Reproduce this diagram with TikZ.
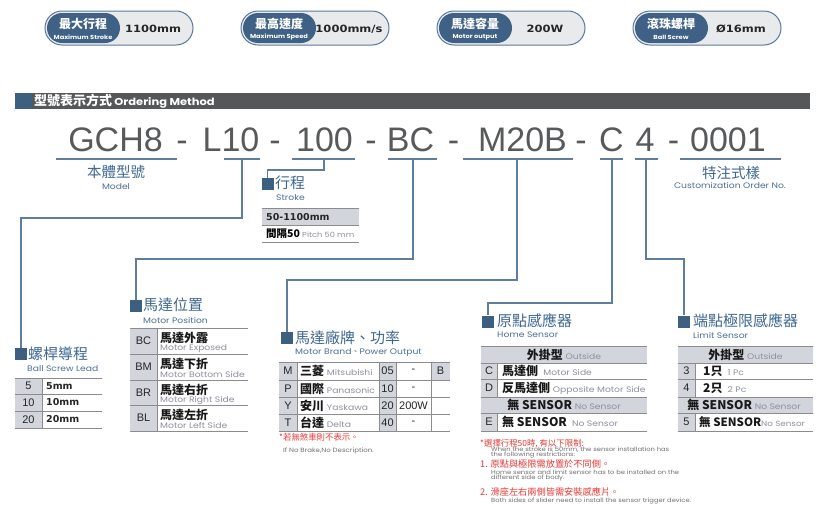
\documentclass[tikz,border=0pt]{standalone}
\usepackage{fontspec}
\setmainfont{Noto Sans CJK TC}
\newfontfamily\cjk{Noto Sans CJK TC}
\newfontfamily\geo[FakeStretch=1.15]{Poppins}
\newfontfamily\ari{Liberation Sans}
\newfontfamily\widefont[FakeStretch=1.15]{DejaVu Sans}
\newfontfamily\dvs{DejaVu Sans}
\definecolor{connc}{HTML}{5F7E9E}
\definecolor{sqc}{HTML}{3D5F80}
\definecolor{titlec}{HTML}{3F6891}
\definecolor{subc}{HTML}{4A6F96}
\definecolor{codec}{HTML}{58595B}
\definecolor{tlc}{HTML}{8C8C8C}
\definecolor{cellc}{HTML}{D3D5DD}
\definecolor{engc}{HTML}{8D8FA0}
\definecolor{redc}{HTML}{E53935}
\definecolor{barc}{HTML}{555759}
\definecolor{pillf}{HTML}{E9EAEC}
\definecolor{pillb}{HTML}{5A7A9C}
\definecolor{pilld}{HTML}{3F6185}
\definecolor{notec}{HTML}{707070}
\newcommand\engt[1]{{\geo\mdseries\color{engc}\fontsize{8}{8}\selectfont #1}}
\newcommand\pillbox[5]{%
  \draw[fill=pillf, draw=pillb, line width=1pt, rounded corners=17pt] (#1,11) rectangle ++(148,34);
  \fill[pilld, rounded corners=15pt] (#1+2,13) rectangle ++(73,30);
  \node[pillcn] (#5a) at (#1+38,24) {#2};
  \node[pillen] (#5b) at (#1+38,37) {#3};
  \node[pillval] (#5c) at (#1+108,29) {#4};
}
\tikzset{
  conn/.style={draw=connc, line width=1.1pt},
  sqbox/.style={fill=sqc, minimum width=12pt, minimum height=12pt, inner sep=0pt},
  ttl/.style={anchor=west, inner sep=0pt, text=titlec, font=\cjk\fontsize{15}{15}\selectfont},
  sub/.style={anchor=west, inner sep=0pt, text=subc, font=\geo\fontsize{8}{8}\selectfont},
  code/.style={anchor=base, inner sep=0pt, text=codec, font=\ari\fontsize{34}{34}\selectfont},
  tl/.style={draw=tlc, line width=0.9pt},
  key/.style={inner sep=0pt, text=black!85, font=\ari\fontsize{11}{11}\selectfont},
  cz/.style={anchor=west, inner sep=0pt, text=black!90, font=\cjk\bfseries\fontsize{12}{12}\selectfont},
  ez/.style={anchor=west, inner sep=0pt, text=engc, font=\geo\fontsize{8}{8}\selectfont},
  val/.style={anchor=west, inner sep=0pt, text=black!85, font=\dvs\bfseries\fontsize{9.5}{9.5}\selectfont},
  pillcn/.style={inner sep=0pt, text=white, font=\cjk\bfseries\fontsize{12}{12}\selectfont},
  pillen/.style={inner sep=0pt, text=white, font=\geo\bfseries\fontsize{5.8}{5.8}\selectfont},
  pillval/.style={inner sep=0pt, text=black!85, font=\widefont\bfseries\fontsize{10}{10}\selectfont},
  red/.style={anchor=west, inner sep=0pt, text=redc, font=\cjk\fontsize{8.4}{8.4}\selectfont},
  tiny/.style={anchor=west, inner sep=0pt, text=notec, font=\geo\fontsize{5.9}{5.9}\selectfont},
}
\begin{document}
\begin{tikzpicture}[x=1pt,y=-1pt]
\useasboundingbox (0,0) rectangle (817,509);
\fill[white] (0,0) rectangle (817,509);
% pills
\pillbox{45}{最大行程}{Maximum Stroke}{1100mm}{pa}
\pillbox{241}{最高速度}{Maximum Speed}{1000mm/s}{pb}
\pillbox{437}{馬達容量}{Motor output}{200W}{pc}
\pillbox{633}{滾珠螺桿}{Ball Screw}{Ø16mm}{pd}
% header bar
\fill[barc] (15,93) rectangle (810,109);
\fill[sqc] (15,93) rectangle (32,109);
\node[anchor=west, inner sep=0pt, text=white] (hdr) at (34,101) {{\cjk\bfseries\fontsize{13}{13}\selectfont 型號表示方式} {\geo\bfseries\fontsize{10}{10}\selectfont Ordering Method}};
% code
\node[code] (cG) at (115.5,151) {GCH8};
\node[code] (d1) at (182,151) {-};
\node[code] (cL) at (231,151) {L10};
\node[code] (d2) at (275,151) {-};
\node[code] (cS) at (324.5,151) {100};
\node[code] (d3) at (371,151) {-};
\node[code] (cB) at (410.5,151) {BC};
\node[code] (d4) at (453.5,151) {-};
\node[code] (cM) at (522.5,151) {M20B};
\node[code] (d5) at (581,151) {-};
\node[code] (cC) at (611.5,151) {C};
\node[code] (c4) at (645,151) {4};
\node[code] (d6) at (673.5,151) {-};
\node[code] (c0) at (728,151) {0001};
% underlines
\coordinate (uG) at (116,159);
\coordinate (uL) at (242,159);
\coordinate (uS) at (324,159);
\coordinate (uB) at (413,159);
\coordinate (uM) at (517,159);
\coordinate (uC) at (612,159);
\coordinate (u4) at (646,159);
\draw[conn] (56,159) -- (177,159);
\draw[conn] (224,159) -- (260,159);
\draw[conn] (292,159) -- (355,159);
\draw[conn] (388,159) -- (437,159);
\draw[conn] (463,159) -- (573,159);
\draw[conn] (600,159) -- (623,159);
\draw[conn] (635,159) -- (658,159);
\draw[conn] (680,159) -- (781,159);
% model / custom labels
\node[inner sep=0pt, text=titlec, font=\cjk\fontsize{14.5}{14.5}\selectfont] (tModel) at (116,172) {本體型號};
\node[inner sep=0pt, text=subc, font=\geo\fontsize{8}{8}\selectfont] (sModel) at (116,187) {Model};
\node[inner sep=0pt, text=titlec, font=\cjk\fontsize{14.5}{14.5}\selectfont] (tCust) at (731,173) {特注式樣};
\node[inner sep=0pt, text=subc, font=\geo\fontsize{8}{8}\selectfont] (sCust) at (730,185) {Customization Order No.};
% squares and titles
\node[sqbox] (sqLead) at (21,354) {};
\node[ttl] (tLead) at (28,354) {螺桿導程};
\node[sub] (sLead) at (27,369) {Ball Screw Lead};
\node[sqbox] (sqStroke) at (267.5,184) {};
\node[ttl] (tStroke) at (275,183) {行程};
\node[sub] (sStroke) at (276,198) {Stroke};
\node[sqbox] (sqPos) at (136,306) {};
\node[ttl] (tPos) at (143,305) {馬達位置};
\node[sub] (sPos) at (143,320) {Motor Position};
\node[sqbox] (sqBrand) at (287,338) {};
\node[ttl] (tBrand) at (295,338) {馬達廠牌、功率};
\node[sub] (sBrand) at (295,353) {Motor Brand{\cjk 、}Power Output};
\node[sqbox] (sqHome) at (488,321.5) {};
\node[ttl] (tHome) at (497,321) {原點感應器};
\node[sub] (sHome) at (497,335) {Home Sensor};
\node[sqbox] (sqLimit) at (684,321.5) {};
\node[ttl] (tLimit) at (693,321) {端點極限感應器};
\node[sub] (sLimit) at (693,335) {Limit Sensor};
% connectors
\draw[conn] (uL) -- ++(0,59) -| (sqLead.north);
\draw[conn] (uS) -- ++(0,11) -| (sqStroke.north);
\draw[conn] (uB) -- ++(0,100) -| (sqPos.north);
\draw[conn] (uM) -- ++(0,121) -| (sqBrand.north);
\draw[conn] (uC) -- ++(0,144) -| (sqHome.north);
\draw[conn] (u4) -- ++(0,100) -| (sqLimit.north);
% stroke table
\fill[cellc] (262,208) rectangle (359,225);
\foreach \yy in {208,225,242} \draw[tl] (262,\yy) -- (359,\yy);
\node[val] (st1) at (266,217) {50-1100mm};
\node[anchor=west, inner sep=0pt] (st2) at (266,233.5) {{\cjk\bfseries\fontsize{10.5}{10.5}\selectfont 間隔50} {\geo\color{engc}\fontsize{7.2}{7.2}\selectfont Pitch 50 mm}};
% lead table
\fill[cellc] (15,378) rectangle (42,428);
\foreach \yy in {378,394,411,428} \draw[tl] (15,\yy) -- (102,\yy);
\draw[tl] (42,378) -- (42,428);
\node[key] (k5) at (28.5,386) {5};
\node[key] (k10) at (28.5,402.5) {10};
\node[key] (k20) at (28.5,419.5) {20};
\node[val] (v5) at (46,386) {5mm};
\node[val] (v10) at (46,402.5) {10mm};
\node[val] (v20) at (46,419.5) {20mm};
% motor position table
\fill[cellc] (130,328) rectangle (157,431);
\foreach \yy in {328,354,380,405,431} \draw[tl] (130,\yy) -- (248,\yy);
\draw[tl] (157,328) -- (157,431);
\node[key] (kBC) at (143.5,341) {BC};
\node[cz] (zBC) at (160,338) {馬達外露};
\node[ez] (eBC) at (160,348.5) {Motor Exposed};
\node[key] (kBM) at (143.5,367) {BM};
\node[cz] (zBM) at (160,364) {馬達下折};
\node[ez] (eBM) at (160,374.5) {Motor Bottom Side};
\node[key] (kBR) at (143.5,392.5) {BR};
\node[cz] (zBR) at (160,390) {馬達右折};
\node[ez] (eBR) at (160,400.5) {Motor Right Side};
\node[key] (kBL) at (143.5,418) {BL};
\node[cz] (zBL) at (160,415) {馬達左折};
\node[ez] (eBL) at (160,425.5) {Motor Left Side};
% brand table
\fill[cellc] (279,362) rectangle (297,431);
\fill[cellc] (379,362) rectangle (396,431);
\fill[cellc] (431,362) rectangle (450,380);
\foreach \yy in {362,380,397,414,431} \draw[tl] (279,\yy) -- (450,\yy);
\foreach \xx in {297,379,396,431} \draw[tl] (\xx,362) -- (\xx,431);
\node[key] (kM) at (288,371) {M};
\node[key] (kP) at (288,388.5) {P};
\node[key] (kY) at (288,405.5) {Y};
\node[key] (kT) at (288,422.5) {T};
\node[cz] (bM) at (300,371) {三菱 \engt{Mitsubishi}};
\node[cz] (bP) at (300,388.5) {國際 \engt{Panasonic}};
\node[cz] (bY) at (300,405.5) {安川 \engt{Yaskawa}};
\node[cz] (bT) at (300,422.5) {台達 \engt{Delta}};
\node[key] (n05) at (387.5,371) {05};
\node[key] (n10) at (387.5,388.5) {10};
\node[key] (n20) at (387.5,405.5) {20};
\node[key] (n40) at (387.5,422.5) {40};
\node[key] (w05) at (413.5,371) {-};
\node[key] (w10) at (413.5,388.5) {-};
\node[key] (w20) at (413.5,405.5) {200W};
\node[key] (w40) at (413.5,422.5) {-};
\node[key] (kBk) at (440.5,371) {B};
\node[red] (nb1) at (279,437) {*若無煞車則不表示。};
\node[tiny, font=\geo\fontsize{6.1}{6.1}\selectfont] (nb2) at (283,451) {If No Brake,No Description.};
% home sensor table
\fill[cellc] (481,346) rectangle (647,363);
\fill[cellc] (481,397) rectangle (647,413);
\fill[cellc] (481,363) rectangle (497,397);
\fill[cellc] (481,413) rectangle (497,431);
\foreach \yy in {346,363,379,397,413,431} \draw[tl] (481,\yy) -- (647,\yy);
\draw[tl] (497,363) -- (497,397);
\draw[tl] (497,413) -- (497,431);
\node[cz, anchor=center] (hO) at (564,354.5) {外掛型 \engt{Outside}};
\node[key] (hCk) at (489,371) {C};
\node[cz] (hC) at (502,371) {馬達側 \engt{\ Motor Side}};
\node[key] (hDk) at (489,388) {D};
\node[cz] (hD) at (502,388) {反馬達側 \engt{Opposite Motor Side}};
\node[cz, anchor=center] (hN) at (564,405) {無 SENSOR \engt{No Sensor}};
\node[key] (hEk) at (489,422) {E};
\node[cz] (hE) at (502,422) {無 SENSOR \engt{\ No Sensor}};
% limit sensor table
\fill[cellc] (678,346) rectangle (813,363);
\fill[cellc] (678,397) rectangle (813,413);
\fill[cellc] (678,363) rectangle (695,397);
\fill[cellc] (678,413) rectangle (695,431);
\foreach \yy in {346,363,379,397,413,431} \draw[tl] (678,\yy) -- (813,\yy);
\draw[tl] (695,363) -- (695,397);
\draw[tl] (695,413) -- (695,431);
\node[cz, anchor=center] (lO) at (745.5,354.5) {外掛型 \engt{Outside}};
\node[key] (l3k) at (686.5,371) {3};
\node[cz] (l3) at (703,371) {1只 \engt{\ 1 Pc}};
\node[key] (l4k) at (686.5,388) {4};
\node[cz] (l4) at (703,388) {2只 \engt{\ 2 Pc}};
\node[cz, anchor=center] (lN) at (744,405) {無 SENSOR \engt{No Sensor}};
\node[key] (l5k) at (686.5,422) {5};
\node[cz, font=\cjk\bfseries\fontsize{11.5}{11.5}\selectfont] (l5) at (699,422) {無 SENSOR{\geo\mdseries\color{engc}\fontsize{7.6}{7.6}\selectfont No Sensor}};
% notes
\node[red] (r1) at (480,444) {*選擇行程50時, 有以下限制:};
\node[tiny] (g1) at (491,449.5) {When the stroke is 50mm, the sensor installation has};
\node[tiny] (g1b) at (491,455) {the following restrictions:};
\node[red, font=\cjk\fontsize{9.2}{9.2}\selectfont] (r2) at (480,464) {1. 原點與極限需放置於不同側。};
\node[tiny] (g2) at (491,472) {Home sensor and limit sensor has to be installed on the};
\node[tiny] (g2b) at (491,478) {different side of body.};
\node[red, font=\cjk\fontsize{9.2}{9.2}\selectfont] (r3) at (480,492) {2. 滑座左右兩側皆需安裝感應片。};
\node[tiny] (g3) at (491,501) {Both sides of slider need to install the sensor trigger device.};
\end{tikzpicture}
\end{document}
